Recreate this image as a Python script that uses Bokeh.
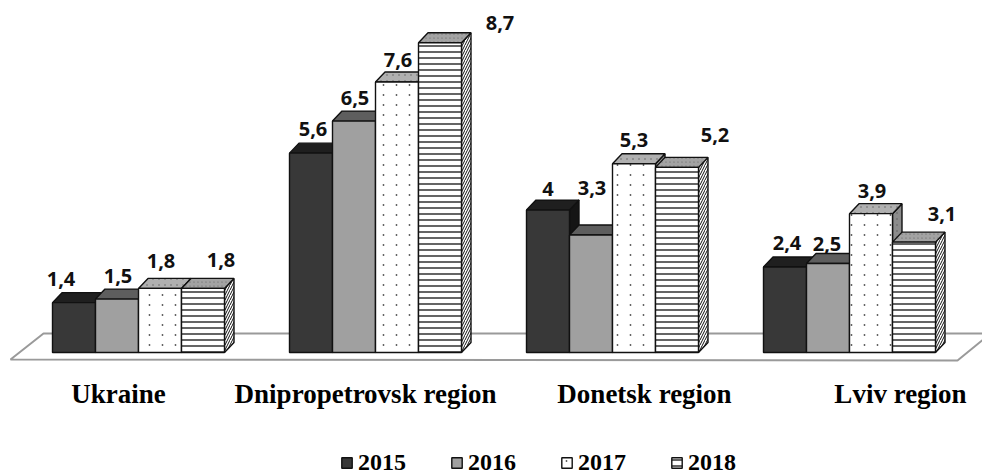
from bokeh.plotting import figure
from bokeh.models import Range1d, ColumnDataSource, Legend, LegendItem, ImageURLTexture
from bokeh.core.properties import value
from bokeh.embed import file_html
from bokeh.resources import INLINE

# ---------------- data ----------------
categories = ["Ukraine", "Dnipropetrovsk region", "Donetsk region", "Lviv region"]
years = ["2015", "2016", "2017", "2018"]
v2015 = [1.4, 5.6, 4.0, 2.4]
v2016 = [1.5, 6.5, 3.3, 2.5]
v2017 = [1.8, 7.6, 5.3, 3.9]
v2018 = [1.8, 8.7, 5.2, 3.1]
series = [v2015, v2016, v2017, v2018]

# ---------------- geometry / style ----------------
W, H = 982, 474
PX = 237.0          # pixels per category unit
PY = 35.6           # pixels per value unit
X0 = -138.0 / PX
X1 = X0 + W / PX
Y1 = 352.0 / PY
Y0 = Y1 - H / PY

BW = 43.0 / PX      # bar width
DDX = 9.5 / PX      # 3-D depth, horizontal
DDY = 10.0 / PY     # 3-D depth, vertical

FRONT = ["#383838", "#a0a0a0", "#ffffff", "#ffffff"]
TOP = ["#1f1f1f", "#5e5e5e", "#b0b0b0", "#a3a3a3"]
SIDE = ["#151515", "#4a4a4a", "#8c8c8c", "#ffffff"]


def dot_tile(w, h, r, col):
    svg = ("<svg xmlns='http://www.w3.org/2000/svg' width='%d' height='%d'>"
           "<circle cx='%g' cy='%g' r='%g' fill='%s'/></svg>") % (w, h, w / 2, h / 2, r, col.replace("#", "%23"))
    return ImageURLTexture(url="data:image/svg+xml;utf8," + svg, repetition="repeat")


TEXTURES = {
    "dots_sparse": dot_tile(13, 10, 0.9, "#555555"),
    "dots_mid": dot_tile(6, 6, 0.7, "#555555"),
    "dots_fine": dot_tile(4, 4, 0.6, "#5a5a5a"),
}

# (pattern, scale, weight, colour)
FRONT_HATCH = [None, None, ("dots_sparse", 12, 1, "#555555"), ("horizontal_line", 6, 1.3, "#111111")]
TOP_HATCH = [None, None, ("dots_mid", 6, 1, "#555555"), ("dots_fine", 4, 1, "#555555")]
SIDE_HATCH = [None, None, ("dots_mid", 6, 1, "#333333"), ("right_diagonal_line", 5, 1.0, "#111111")]

# value-label offsets in pixels (dx, dy) per category, per series
LBL_DX = [[-13, 1, 1, 18], [2, 1, 1, 60], [0, 1, 0, 38], [2, -1, 1, 28]]
LBL_DY = [[24, 23, 27, 28], [24, 23, 22, 20], [21, 47, 24, 32], [24, 20, 23, 28]]
CAT_DX = [-20, -10, 32, 51]
CAT_MID = -41.0    # pixels below baseline for category label centre

p = figure(width=W, height=H, x_range=Range1d(X0, X1), y_range=Range1d(Y0, Y1),
           output_backend="svg", toolbar_location=None, min_border=0,
           x_axis_location=None, y_axis_location=None)
p.grid.visible = False
p.outline_line_color = None
p.background_fill_color = "white"
p.border_fill_color = "white"

# floor
n = len(categories)
fx = [-128.0 / PX, -95.0 / PX, (n - 1) + 141.0 / PX, (n - 1) + 108.0 / PX]
fy = [-7.0 / PY, 19.0 / PY, 19.0 / PY, -8.0 / PY]
p.patch(fx, fy, fill_color="white", line_color="#9a9a9a", line_width=2)


def hatch_kw(h):
    if h is None:
        return {}
    pat, sc, wt, col = h
    kw = dict(hatch_pattern=value(pat), hatch_scale=sc, hatch_weight=wt, hatch_color=col)
    if pat in TEXTURES:
        kw["hatch_extra"] = {pat: TEXTURES[pat]}
    return kw


front_renderers = []
for k, vals in enumerate(series):
    lefts = [i - 2 * BW + k * BW for i in range(n)]
    rights = [l + BW for l in lefts]
    side_xs = [[r, r + DDX, r + DDX, r] for r in rights]
    side_ys = [[0, DDY, v + DDY, v] for v in vals]
    p.patches(side_xs, side_ys, fill_color=SIDE[k], line_color="#111111",
              line_width=1.4, **hatch_kw(SIDE_HATCH[k]))
    top_xs = [[l, r, r + DDX, l + DDX] for l, r in zip(lefts, rights)]
    top_ys = [[v, v, v + DDY, v + DDY] for v in vals]
    p.patches(top_xs, top_ys, fill_color=TOP[k], line_color="#111111",
              line_width=1.4, **hatch_kw(TOP_HATCH[k]))
    fr = p.quad(left=lefts, right=rights, bottom=[0] * n, top=vals,
                fill_color=FRONT[k], line_color="#111111", line_width=1.4,
                **hatch_kw(FRONT_HATCH[k]))
    front_renderers.append(fr)

# value labels
lx, ly, lt = [], [], []
for k, vals in enumerate(series):
    for i, v in enumerate(vals):
        c = i - 2 * BW + k * BW + BW / 2
        lx.append(c + LBL_DX[i][k] / PX)
        ly.append(v + LBL_DY[i][k] / PY)
        lt.append(f"{v:g}".replace(".", ","))
p.text(x="x", y="y", text="t", source=ColumnDataSource(dict(x=lx, y=ly, t=lt)),
       text_font=value("Open Sans"), text_font_style="bold", text_font_size="20px",
       text_color="#111111", text_align="center", text_baseline="middle")

# category labels
cx = [i + CAT_DX[i] / PX for i in range(n)]
cy = [CAT_MID / PY] * n
p.text(x="x", y="y", text="t", source=ColumnDataSource(dict(x=cx, y=cy, t=categories)),
       text_font=value("Liberation Serif"), text_font_style="bold", text_font_size="27px",
       text_color="#000000", text_align="center", text_baseline="middle")

legend = Legend(items=[LegendItem(label=y, renderers=[r]) for y, r in zip(years, front_renderers)],
                orientation="horizontal", location=(340, -2),
                glyph_width=13, glyph_height=13, label_standoff=5, spacing=44,
                padding=0, margin=0, border_line_alpha=0, background_fill_alpha=0,
                label_text_font="Liberation Serif", label_text_font_style="bold",
                label_text_font_size="24px", label_height=13, label_text_color="#000000")
p.add_layout(legend)

open("out.html", "w").write(file_html(p, INLINE))
